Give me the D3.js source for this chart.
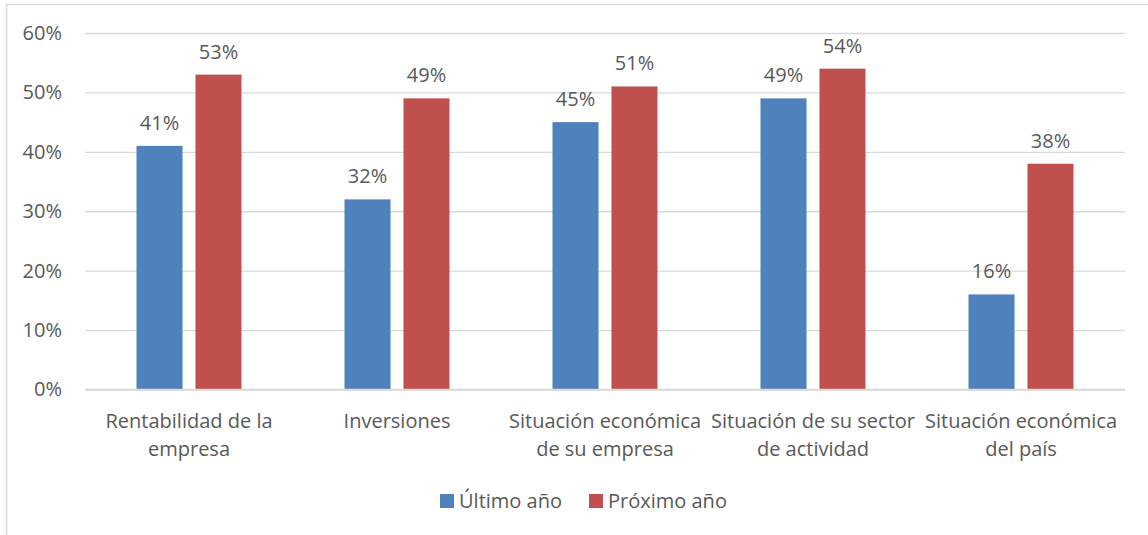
<!DOCTYPE html>
<html>
<head>
<meta charset="utf-8">
<script src="https://cdn.jsdelivr.net/npm/d3@7"></script>
<style>
  body { margin: 0; background: #fff; }
  text { font-family: "Open Sans", "Noto Sans", sans-serif; fill: #595959; }
</style>
</head>
<body>
<div id="chart"></div>
<script>
// datos del grafico
var categories = ["Rentabilidad de la\nempresa", "Inversiones", "Situación económica\nde su empresa", "Situación de su sector\nde actividad", "Situación económica\ndel país"];
var seriesNames = ["Último año", "Próximo año"];
var ultimoAnio = [41, 32, 45, 49, 16];
var proximoAnio = [53, 49, 51, 54, 38];
var yTicks = [0, 10, 20, 30, 40, 50, 60];
var colors = ["#4F81BD", "#C0504D"];

var width = 1148, height = 535;
var margin = { top: 33, right: 23, bottom: 145.5, left: 85 };
var fs = "20px";

var svg = d3.select("#chart").append("svg")
    .attr("width", width)
    .attr("height", height);

// marco
svg.append("rect")
    .attr("x", 6.5).attr("y", 4.5)
    .attr("width", width + 10).attr("height", height + 10)
    .attr("fill", "none")
    .attr("stroke", "#d9d9d9")
    .attr("stroke-width", 1.5);

var x0 = d3.scaleBand()
    .domain(categories)
    .range([margin.left, width - margin.right]);

var x1 = d3.scaleBand()
    .domain(seriesNames)
    .range([0, x0.bandwidth()])
    .paddingInner(0.22)
    .paddingOuter(0.873);

var y = d3.scaleLinear()
    .domain([0, 60])
    .range([height - margin.bottom, margin.top]);

// lineas de cuadricula
var yAxis = d3.axisLeft(y)
    .tickValues(yTicks)
    .tickSize(-(width - margin.left - margin.right))
    .tickFormat(function (d) { return d + "%"; });

var gy = svg.append("g")
    .attr("transform", "translate(" + margin.left + ",0)")
    .call(yAxis);
gy.select(".domain").remove();
gy.selectAll(".tick line").attr("stroke", "#d9d9d9").attr("stroke-width", 1.3);
gy.selectAll(".tick text")
    .attr("x", -23)
    .attr("font-size", fs)
    .style("font-family", "'Open Sans', sans-serif");

// barras
var rows = categories.map(function (c, i) {
    return { cat: c, values: [ultimoAnio[i], proximoAnio[i]] };
});

var groups = svg.selectAll(".grupo")
    .data(rows)
    .enter()
    .append("g")
    .attr("class", "grupo")
    .attr("transform", function (d) { return "translate(" + x0(d.cat) + ",0)"; });

groups.selectAll("rect")
    .data(function (d) { return d.values.map(function (v, j) { return { s: seriesNames[j], v: v, j: j }; }); })
    .enter()
    .append("rect")
    .attr("x", function (d) { return x1(d.s); })
    .attr("y", function (d) { return y(d.v); })
    .attr("width", x1.bandwidth())
    .attr("height", function (d) { return y(0) - y(d.v); })
    .attr("fill", function (d) { return colors[d.j]; });

// etiquetas de valores
groups.selectAll(".valor")
    .data(function (d) { return d.values.map(function (v, j) { return { s: seriesNames[j], v: v }; }); })
    .enter()
    .append("text")
    .attr("class", "valor")
    .attr("text-anchor", "middle")
    .attr("x", function (d) { return x1(d.s) + x1.bandwidth() / 2; })
    .attr("y", function (d) { return y(d.v) - 16; })
    .attr("font-size", fs)
    .text(function (d) { return d.v + "%"; });

// eje x (linea base)
svg.append("line")
    .attr("x1", margin.left).attr("x2", width - margin.right)
    .attr("y1", y(0)).attr("y2", y(0))
    .attr("stroke", "#d9d9d9")
    .attr("stroke-width", 1.5);

// etiquetas de categorias
var catLabels = svg.selectAll(".cat")
    .data(categories)
    .enter()
    .append("text")
    .attr("class", "cat")
    .attr("text-anchor", "middle")
    .attr("font-size", fs)
    .attr("transform", function (d) { return "translate(" + (x0(d) + x0.bandwidth() / 2) + "," + (y(0) + 38) + ")"; });

catLabels.selectAll("tspan")
    .data(function (d) { return d.split("\n"); })
    .enter()
    .append("tspan")
    .attr("x", 0)
    .attr("dy", function (d, i) { return i === 0 ? 0 : 28; })
    .text(function (d) { return d; });

// leyenda
var legendX = [440, 589];
var legend = svg.selectAll(".leyenda")
    .data(seriesNames)
    .enter()
    .append("g")
    .attr("class", "leyenda")
    .attr("transform", function (d, i) { return "translate(" + legendX[i] + ",494)"; });

legend.append("rect")
    .attr("width", 14).attr("height", 14)
    .attr("fill", function (d, i) { return colors[i]; });

legend.append("text")
    .attr("x", 19)
    .attr("y", 14)
    .attr("font-size", fs)
    .text(function (d) { return d; });
</script>
</body>
</html>
